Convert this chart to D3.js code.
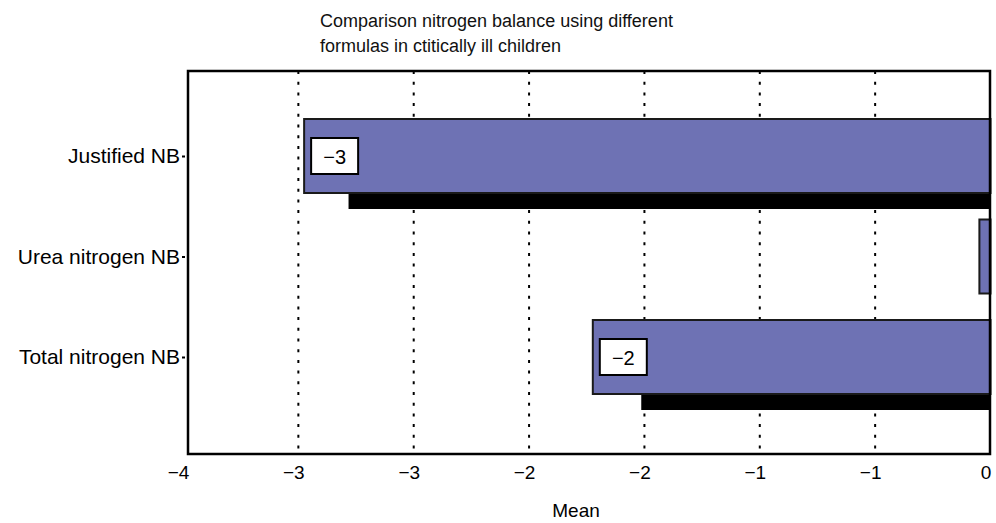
<!DOCTYPE html>
<html>
<head>
<meta charset="utf-8">
<script src="https://cdn.jsdelivr.net/npm/d3@7"></script>
<style>
  body { margin: 0; background: #fff; }
  svg { display: block; font-family: "Liberation Sans", Arial, Helvetica, sans-serif; }
</style>
</head>
<body>
<svg id="chart" width="996" height="523"></svg>
<script>
// Nitrogen balance (mean) per formula
const categories = ["Justified NB", "Urea nitrogen NB", "Total nitrogen NB"];
const meanValues = [-3.40, -0.055, -1.97];
const backValues = [-3.18, 0, -1.73];
const xDomain = [-4, 0];
const tickCount = 7; // number of intervals along the x axis
const titleLines = ["Comparison nitrogen balance using different", "formulas in ctitically ill children"];
const xTitle = "Mean";

const svg = d3.select("#chart");

const x = d3.scaleLinear().domain(xDomain).range([183, 990.5]);
const y = d3.scalePoint().domain(categories).range([156, 357]);
const barH = 74;
const frame = { left: 188, top: 71, right: 990, bottom: 454 };

const fmt = v => {
  const r = Math.round(v);
  return r === 0 ? "0" : (r < 0 ? "\u2212" + Math.abs(r) : String(r));
};
const tickValues = d3.range(tickCount + 1).map(i => xDomain[0] + i * (xDomain[1] - xDomain[0]) / tickCount);

// title
svg.append("g").selectAll("text").data(titleLines).join("text")
  .attr("x", 320).attr("y", (d, i) => 27 + i * 25)
  .attr("font-size", 18).attr("fill", "#111")
  .text(d => d);

// dotted vertical gridlines
svg.append("g").selectAll("line")
  .data(tickValues.filter(v => v > xDomain[0] && v < xDomain[1]))
  .join("line")
  .attr("x1", d => x(d)).attr("x2", d => x(d))
  .attr("y1", frame.top).attr("y2", frame.bottom)
  .attr("stroke", "#000").attr("stroke-width", 2)
  .attr("stroke-dasharray", "3,7.7");

// back (dark) bars
svg.append("g").selectAll("rect").data(categories).join("rect")
  .attr("x", (d, i) => x(backValues[i]))
  .attr("width", (d, i) => x(0) - x(backValues[i]))
  .attr("y", d => y(d) - barH / 2 + 16)
  .attr("height", barH)
  .attr("fill", "#000");

// mean bars
svg.append("g").selectAll("rect").data(categories).join("rect")
  .attr("x", (d, i) => x(meanValues[i]))
  .attr("width", (d, i) => x(0) - x(meanValues[i]))
  .attr("y", d => y(d) - barH / 2)
  .attr("height", barH)
  .attr("fill", "#6e72b4")
  .attr("stroke", "#1a1a1a").attr("stroke-width", 2);

// value labels for bars wide enough to hold them
const labelled = categories.map((c, i) => ({ c, v: meanValues[i] }))
  .filter(d => x(0) - x(d.v) > 80);
const lab = svg.append("g").selectAll("g").data(labelled).join("g")
  .attr("transform", d => `translate(${x(d.v) + 7},${y(d.c)})`);
lab.append("rect")
  .attr("x", 0).attr("y", -18).attr("width", 47).attr("height", 36)
  .attr("fill", "#fff").attr("stroke", "#000").attr("stroke-width", 2);
lab.append("text")
  .attr("x", 23.5).attr("y", 7.5)
  .attr("text-anchor", "middle").attr("font-size", 20).attr("fill", "#000")
  .text(d => fmt(d.v));

// frame
svg.append("rect")
  .attr("x", frame.left).attr("y", frame.top)
  .attr("width", frame.right - frame.left).attr("height", frame.bottom - frame.top)
  .attr("fill", "none").attr("stroke", "#000").attr("stroke-width", 2.5);

// x axis labels
const xAxis = d3.axisBottom(x).tickValues(tickValues).tickFormat(fmt).tickSize(0).tickPadding(12);
const gx = svg.append("g").attr("transform", `translate(0,${frame.bottom})`).call(xAxis);
gx.select(".domain").remove();
gx.selectAll("text").attr("font-size", 19).attr("fill", "#000")
  .attr("font-family", "Liberation Sans, Arial, sans-serif")
  .attr("dx", -5);

// y axis labels with short ticks
const yAxis = d3.axisLeft(y).tickSize(3).tickPadding(2);
const gy = svg.append("g").attr("transform", "translate(185,0)").call(yAxis);
gy.select(".domain").remove();
gy.selectAll(".tick line").attr("stroke", "#000").attr("stroke-width", 2);
gy.selectAll("text").attr("font-size", 21).attr("fill", "#000")
  .attr("font-family", "Liberation Sans, Arial, sans-serif");

// x axis title
svg.append("text")
  .attr("x", 576).attr("y", 517)
  .attr("text-anchor", "middle").attr("font-size", 19).attr("fill", "#000")
  .text(xTitle);
</script>
</body>
</html>
